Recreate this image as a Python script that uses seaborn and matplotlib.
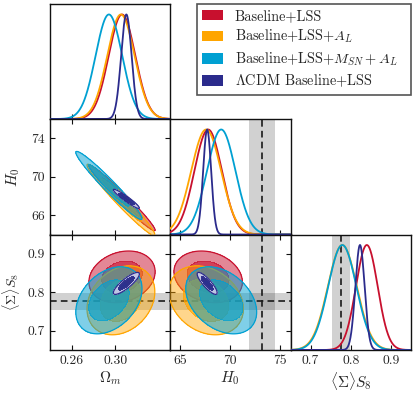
import numpy as np
import pandas as pd
import matplotlib
matplotlib.use("Agg")
import matplotlib.pyplot as plt
from matplotlib.patches import Patch
import seaborn as sns

# ---------------- data ----------------
series_labels = ["Baseline+LSS", r"Baseline+LSS+$A_L$",
                 r"Baseline+LSS+$M_{SN}+A_L$", r"$\Lambda$CDM Baseline+LSS"]
mean_om = [0.306, 0.305, 0.294, 0.310]
mean_h0 = [67.8, 67.6, 69.1, 67.7]
mean_s8 = [0.840, 0.779, 0.779, 0.823]
sd_om = [0.0122, 0.0125, 0.0122, 0.0048]
sd_h0 = [1.37, 1.49, 1.42, 0.40]
sd_s8 = [0.027, 0.036, 0.035, 0.0115]
rho_om_h0 = [-0.98, -0.975, -0.97, -0.95]
rho_om_s8 = [0.20, 0.25, 0.35, 0.85]
rho_h0_s8 = [-0.20, -0.25, -0.35, -0.85]

h0_ref, h0_ref_err = 73.2, 1.3
s8_ref, s8_ref_err = 0.776, 0.023

om_ticks = [0.26, 0.30]
om_ticklabels = ["0.26", "0.30"]
h0_ticks = [65, 70, 75]
h0_ticklabels = ["65", "70", "75"]
h0_yticks = [66, 70, 74]
h0_yticklabels = ["66", "70", "74"]
s8_ticks = [0.7, 0.8, 0.9]
s8_ticklabels = ["0.7", "0.8", "0.9"]

# ---------------- style ----------------
colors = ["#C8102E", "#FFA500", "#00A0D2", "#2B2B8C"]
outer_fill = ["#C8102E", "#FFA500", "#00A0D2", "#C8C8E8"]
outer_alpha = [0.5, 0.45, 0.5, 0.95]
inner_alpha = [0.8, 0.8, 0.8, 0.95]

sns.set_theme(style="ticks")
plt.rcParams.update({
    "font.family": "serif",
    "font.serif": ["cmr10", "DejaVu Serif"],
    "mathtext.fontset": "cm",
    "axes.unicode_minus": False,
    "axes.formatter.use_mathtext": True,
    "axes.edgecolor": "#111111",
    "axes.linewidth": 1.0,
})

W, H = 415, 394
fig = plt.figure(figsize=(W / 100, H / 100), dpi=100)

cols = [(50, 170), (170, 290.5), (290.5, 411)]
rows = [(4, 119), (119, 234.5), (234.5, 350)]


def add_ax(r, c):
    x0, x1 = cols[c]
    y0, y1 = rows[r]
    return fig.add_axes([x0 / W, 1 - y1 / H, (x1 - x0) / W, (y1 - y0) / H])


lims = {"om": (0.24, 0.35), "h0": (64.0, 76.0), "s8": (0.65, 0.95)}
means = {"om": mean_om, "h0": mean_h0, "s8": mean_s8}
sds = {"om": sd_om, "h0": sd_h0, "s8": sd_s8}
rhos = {("om", "h0"): rho_om_h0, ("om", "s8"): rho_om_s8, ("h0", "s8"): rho_h0_s8}

TL = 3.5
tick_kw = dict(direction="in", length=TL, width=0.8, labelsize=9.8, color="#111111")


def band_v(ax, c, e):
    ax.axvspan(c - e, c + e, color="k", alpha=0.2, lw=0, zorder=0)
    ax.axvline(c, color="k", lw=1.2, ls=(0, (4, 2.5)), zorder=1)


def band_h(ax, c, e):
    ax.axhspan(c - e, c + e, color="k", alpha=0.2, lw=0, zorder=0)
    ax.axhline(c, color="k", lw=1.2, ls=(0, (4, 2.5)), zorder=1)


# ---------- diagonal 1D ----------
def diag(ax, p):
    lo, hi = lims[p]
    x = np.linspace(lo, hi, 600)
    for i in range(4):
        y = np.exp(-0.5 * ((x - means[p][i]) / sds[p][i]) ** 2)
        df = pd.DataFrame({"x": x, "y": y})
        sns.lineplot(data=df, x="x", y="y", ax=ax, color=colors[i], lw=1.3,
                     zorder=3 + i, sort=False)
    ax.set_xlim(lo, hi)
    ax.set_ylim(0, 1.1)
    ax.set_xlabel("")
    ax.set_ylabel("")
    ax.set_yticks([])


# ---------- 2D ----------
def panel2d(ax, px, py):
    xl, yl = lims[px], lims[py]
    X, Y = np.meshgrid(np.linspace(*xl, 400), np.linspace(*yl, 400))
    for i in range(4):
        sx, sy = sds[px][i], sds[py][i]
        r = rhos[(px, py)][i]
        dx = (X - means[px][i]) / sx
        dy = (Y - means[py][i]) / sy
        chi2 = (dx ** 2 - 2 * r * dx * dy + dy ** 2) / (1 - r ** 2)
        ax.contourf(X, Y, chi2, levels=[2.30, 6.18], colors=[outer_fill[i]],
                    alpha=outer_alpha[i], zorder=2 + i)
        ax.contourf(X, Y, chi2, levels=[0, 2.30], colors=[colors[i]],
                    alpha=inner_alpha[i], zorder=2 + i)
        ax.contour(X, Y, chi2, levels=[6.18], colors=[colors[i]],
                   linewidths=0.9, zorder=2 + i)
    ax.set_xlim(*xl)
    ax.set_ylim(*yl)


ax00 = add_ax(0, 0)
ax10 = add_ax(1, 0)
ax11 = add_ax(1, 1)
ax20 = add_ax(2, 0)
ax21 = add_ax(2, 1)
ax22 = add_ax(2, 2)

diag(ax00, "om")
diag(ax11, "h0")
band_v(ax11, h0_ref, h0_ref_err)
diag(ax22, "s8")
band_v(ax22, s8_ref, s8_ref_err)

panel2d(ax10, "om", "h0")
panel2d(ax20, "om", "s8")
band_h(ax20, s8_ref, s8_ref_err)
panel2d(ax21, "h0", "s8")
band_h(ax21, s8_ref, s8_ref_err)
band_v(ax21, h0_ref, h0_ref_err)

# ticks
for ax in [ax00, ax10, ax20]:
    ax.set_xticks(om_ticks)
    ax.set_xticklabels(om_ticklabels)
for ax in [ax11, ax21]:
    ax.set_xticks(h0_ticks)
    ax.set_xticklabels(h0_ticklabels)
ax22.set_xticks(s8_ticks)
ax22.set_xticklabels(s8_ticklabels)
ax10.set_yticks(h0_yticks)
ax10.set_yticklabels(h0_yticklabels)
for ax in [ax20, ax21]:
    ax.set_yticks(s8_ticks)
    ax.set_yticklabels(s8_ticklabels)

for ax in [ax00, ax11, ax22]:
    ax.tick_params(axis="x", bottom=True, top=False, **tick_kw)
    ax.tick_params(axis="y", left=False, right=False)
ax00.tick_params(labelbottom=False)
ax11.tick_params(labelbottom=False)
ax22.tick_params(labelbottom=True, pad=3.5)

ax10.tick_params(axis="both", top=True, right=True, bottom=True, left=True,
                 labelbottom=False, labelleft=True, pad=3.5, **tick_kw)
ax20.tick_params(axis="both", top=True, right=True, bottom=True, left=True,
                 labelbottom=True, labelleft=True, pad=3.5, **tick_kw)
ax21.tick_params(axis="both", top=True, right=True, bottom=True, left=True,
                 labelbottom=True, labelleft=False, pad=3.5, **tick_kw)
# ticks of the H0 axis also poke into the neighbouring 1D panel
for t in ax10.yaxis.get_major_ticks():
    t.tick2line.set_marker(matplotlib.lines.TICKLEFT)
    t.tick2line.set_markersize(TL * 2)
    t.tick2line.set_transform(t.tick2line.get_transform() +
                              matplotlib.transforms.ScaledTranslation(TL / 72, 0, fig.dpi_scale_trans))

for ax in [ax00, ax10, ax11, ax20, ax21, ax22]:
    ax.set_xlabel("")
    ax.set_ylabel("")
    for s in ax.spines.values():
        s.set_visible(True)
        s.set_linewidth(1.0)

lab_fs = 11
ax20.set_xlabel(r"$\Omega_m$", fontsize=lab_fs, labelpad=2)
ax21.set_xlabel(r"$H_0$", fontsize=lab_fs, labelpad=2)
ax22.set_xlabel(r"$\langle\Sigma\rangle S_8$", fontsize=lab_fs, labelpad=2)
ax10.set_ylabel(r"$H_0$", fontsize=lab_fs)
ax20.set_ylabel(r"$\langle\Sigma\rangle S_8$", fontsize=10)
ax10.yaxis.set_label_coords(-0.235, 0.5)
ax20.yaxis.set_label_coords(-0.235, 0.5)

# legend
handles = [Patch(facecolor=c, edgecolor="none") for c in colors]
leg = fig.legend(handles, series_labels, loc="upper left",
                 bbox_to_anchor=(197 / W, 1 - 4 / H, (411 - 197) / W, 0.0),
                 mode="expand", borderaxespad=0, fancybox=False, framealpha=1,
                 edgecolor="#555555", fontsize=10.3, handlelength=1.45,
                 handleheight=0.75, handletextpad=0.8, labelspacing=0.34,
                 borderpad=0.38)
leg.get_frame().set_linewidth(1.2)

fig.savefig("out.png", dpi=100)
